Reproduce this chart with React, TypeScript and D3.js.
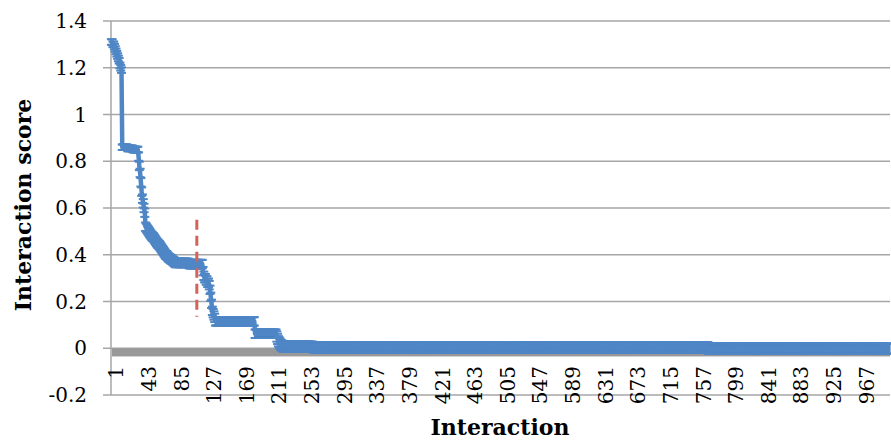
import * as React from "react"
import * as d3 from "d3"

// run-length data: [score, number of interactions]
const scoreRuns: [number, number][] = [
  [1.31, 2], [1.3, 2], [1.29, 1], [1.28, 1], [1.27, 1], [1.26, 1], [1.25, 1],
  [1.24, 1], [1.23, 1], [1.21, 1], [1.2, 1], [1.19, 1],
  [0.86, 7], [0.855, 7], [0.85, 7],
  [0.82, 1], [0.78, 1], [0.75, 1], [0.71, 1], [0.67, 1], [0.64, 1], [0.62, 1], [0.6, 1], [0.58, 1],
  [0.52, 1], [0.515, 1], [0.51, 1], [0.505, 1], [0.5, 1], [0.495, 1], [0.49, 1], [0.485, 1],
  [0.48, 1], [0.478, 1], [0.475, 1], [0.47, 1], [0.465, 1], [0.46, 1], [0.455, 1], [0.45, 1],
  [0.447, 1], [0.443, 1], [0.44, 1], [0.435, 1], [0.43, 1], [0.425, 1], [0.42, 1], [0.415, 1],
  [0.41, 1], [0.405, 1], [0.4, 1], [0.398, 1], [0.395, 1], [0.39, 1], [0.387, 1], [0.385, 1],
  [0.382, 1], [0.38, 1], [0.378, 1], [0.375, 1], [0.372, 1], [0.37, 1],
  [0.365, 18], [0.36, 18],
  [0.33, 1], [0.31, 1], [0.3, 2], [0.29, 2], [0.28, 2],
  [0.27, 1], [0.25, 1], [0.22, 1], [0.19, 1], [0.16, 1], [0.15, 1], [0.14, 1], [0.13, 1],
  [0.115, 51],
  [0.062, 28],
  [0.05, 1], [0.04, 1], [0.03, 1], [0.025, 1], [0.02, 1], [0.015, 1], [0.012, 1], [0.01, 1], [0.008, 1],
  [0.006, 38],
  [0.004, 509],
  [-0.002, 234],
]

// error bar half-widths, run-length: [error, count]
const errorRuns: [number, number][] = [
  [0.012, 35],
  [0.018, 178],
  [0.022, 790],
]

const baselineBand = -0.035
const thresholdMark = { interaction: 111, from: 0.135, to: 0.55 }

const yTicks = [-0.2, 0, 0.2, 0.4, 0.6, 0.8, 1, 1.2, 1.4]
const yTickLabels = ["-0.2", "0", "0.2", "0.4", "0.6", "0.8", "1", "1.2", "1.4"]
const xTickLabels = [
  "1", "43", "85", "127", "169", "211", "253", "295", "337", "379", "421", "463",
  "505", "547", "589", "631", "673", "715", "757", "799", "841", "883", "925", "967",
]

const expand = (runs: [number, number][]) =>
  runs.flatMap(([v, n]) => Array.from({ length: n }, () => v))

const scores = expand(scoreRuns)
const errors = expand(errorRuns)

const FONT = "'DejaVu Serif', serif"

function render(svgRef: React.RefObject<SVGSVGElement>) {
  const width = 891
  const height = 441
  const left = 111
  const right = 890
  const top = 21
  const bottom = 395

  const svg = d3.select(svgRef.current).attr("width", width).attr("height", height)
  svg.selectAll("*").remove()

  const cats = scores.map((_d, i) => i + 1)
  const x = d3.scaleBand<number>().domain(cats).range([left, right]).padding(0)
  const cx = (k: number) => (x(k) as number) + x.bandwidth() / 2
  const y = d3.scaleLinear().domain([-0.2, 1.4]).range([bottom, top])

  // gridlines + y tick marks
  svg
    .append("g")
    .selectAll("line")
    .data(yTicks)
    .join("line")
    .attr("x1", left - 8)
    .attr("x2", right)
    .attr("y1", (d) => y(d))
    .attr("y2", (d) => y(d))
    .attr("stroke", "#a6a6a6")
    .attr("stroke-width", 1.5)

  // y axis line
  svg
    .append("line")
    .attr("x1", left)
    .attr("x2", left)
    .attr("y1", y(1.4))
    .attr("y2", y(-0.2))
    .attr("stroke", "#a6a6a6")
    .attr("stroke-width", 1.5)

  // y tick labels
  svg
    .append("g")
    .selectAll("text")
    .data(yTicks)
    .join("text")
    .attr("x", 87)
    .attr("y", (d) => y(d))
    .attr("dy", "0.35em")
    .attr("text-anchor", "end")
    .attr("font-family", FONT)
    .attr("font-size", 20)
    .attr("fill", "#000")
    .text((_d, i) => yTickLabels[i])

  // grey band under zero
  svg
    .append("rect")
    .attr("x", left + 1)
    .attr("y", y(0))
    .attr("width", right - left - 1)
    .attr("height", y(baselineBand) - y(0))
    .attr("fill", "#999999")

  const blue = "#4f86c6"

  // error bars
  const eb = svg.append("g").attr("stroke", blue).attr("stroke-width", 2)
  eb.selectAll(".ev")
    .data(scores)
    .join("line")
    .attr("class", "ev")
    .attr("x1", (_d, i) => cx(i + 1))
    .attr("x2", (_d, i) => cx(i + 1))
    .attr("y1", (d, i) => y(d + errors[i]))
    .attr("y2", (d, i) => y(d - errors[i]))
  ;[1, -1].forEach((s) => {
    eb.selectAll(".cap" + (s > 0 ? "u" : "d"))
      .data(scores)
      .join("line")
      .attr("class", "cap" + (s > 0 ? "u" : "d"))
      .attr("x1", (_d, i) => cx(i + 1) - 4.5)
      .attr("x2", (_d, i) => cx(i + 1) + 4.5)
      .attr("y1", (d, i) => y(d + s * errors[i]))
      .attr("y2", (d, i) => y(d + s * errors[i]))
  })

  // score line
  const line = d3
    .line<number>()
    .x((_d, i) => cx(i + 1))
    .y((d) => y(d))
  svg
    .append("path")
    .datum(scores)
    .attr("d", line)
    .attr("fill", "none")
    .attr("stroke", blue)
    .attr("stroke-width", 4.5)
    .attr("stroke-linejoin", "round")

  // threshold marker
  svg
    .append("line")
    .attr("x1", cx(thresholdMark.interaction))
    .attr("x2", cx(thresholdMark.interaction))
    .attr("y1", y(thresholdMark.to))
    .attr("y2", y(thresholdMark.from))
    .attr("stroke", "#d5615b")
    .attr("stroke-width", 3)
    .attr("stroke-dasharray", "10,6")

  // x tick labels (rotated)
  svg
    .append("g")
    .selectAll("text")
    .data(xTickLabels)
    .join("text")
    .attr("transform", (d) => `translate(${cx(+d) + 5},366) rotate(-90)`)
    .attr("dy", "0.35em")
    .attr("text-anchor", "end")
    .attr("font-family", FONT)
    .attr("font-size", 20)
    .attr("fill", "#000")
    .text((d) => d)

  // axis titles
  svg
    .append("text")
    .attr("x", 500)
    .attr("y", 435)
    .attr("text-anchor", "middle")
    .attr("font-family", FONT)
    .attr("font-weight", "bold")
    .attr("font-size", 22)
    .text("Interaction")

  svg
    .append("text")
    .attr("transform", "translate(31,205) rotate(-90)")
    .attr("text-anchor", "middle")
    .attr("font-family", FONT)
    .attr("font-weight", "bold")
    .attr("font-size", 22)
    .text("Interaction score")
}

export default function App(): React.JSX.Element {
  const svg = React.useRef<SVGSVGElement>(null)

  React.useEffect(() => {
    render(svg)
  }, [])

  return (
    <svg
      ref={svg}
      style={{ position: "absolute", left: 0, top: 0, background: "#fff" }}
    />
  )
}
